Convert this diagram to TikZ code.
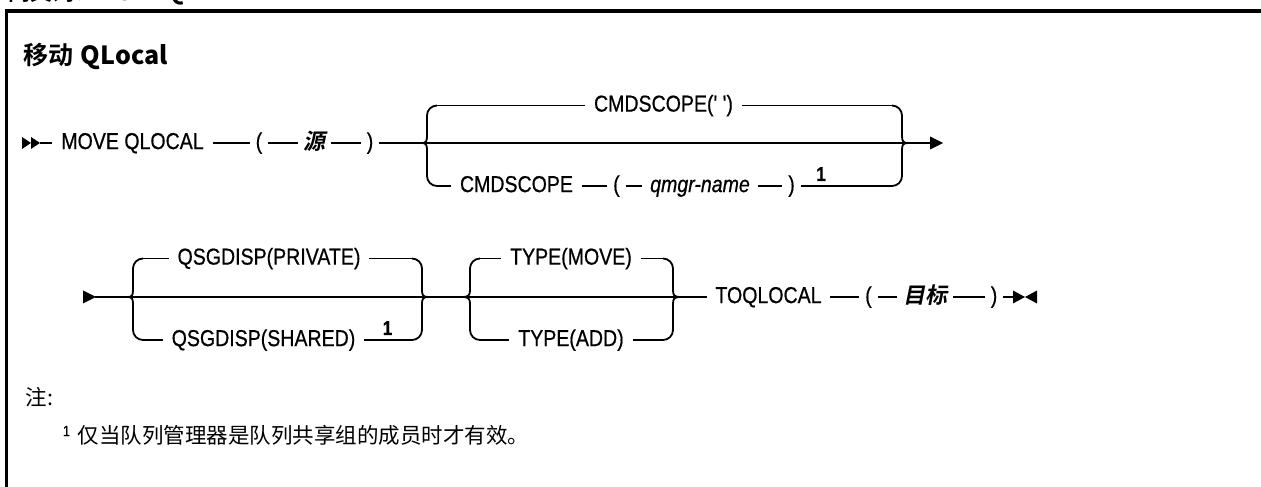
\documentclass[tikz,border=0pt]{standalone}
\usepackage{fontspec}
\setmainfont{Liberation Sans}
\newfontfamily\diag{Liberation Sans}[FakeStretch=0.85,FakeBold=0.6]
\newfontfamily\cjk{Noto Sans CJK SC}
\newfontfamily\cjkbold{Noto Sans CJK SC Bold}
\newfontfamily\cjkbi{Noto Sans CJK SC Bold}[FakeSlant=0.2]
\newcommand{\mylbrace}[5]{%
 \draw (#2+10,#4) arc[start angle=90,end angle=180,radius=10pt] -- (#2,#3+7) .. controls (#2,#3+2) and (#2-1,#3) .. (#1,#3);
 \draw (#2+10,#5) arc[start angle=270,end angle=180,radius=10pt] -- (#2,#3-7) .. controls (#2,#3-2) and (#2-1,#3) .. (#1,#3);}
\newcommand{\myrbrace}[5]{%
 \draw (#2-10,#4) arc[start angle=90,end angle=0,radius=10pt] -- (#2,#3+7) .. controls (#2,#3+2) and (#2+1,#3) .. (#1,#3);
 \draw (#2-10,#5) arc[start angle=270,end angle=360,radius=10pt] -- (#2,#3-7) .. controls (#2,#3-2) and (#2+1,#3) .. (#1,#3);}
\tikzset{
 kw/.style={font=\diag\fontsize{23}{25}\selectfont, inner xsep=8pt, inner ysep=0pt, anchor=mid},
 tk/.style={font=\diag\fontsize{23}{25}\selectfont, inner xsep=5pt, inner ysep=0pt, anchor=mid},
 vartxt/.style={font=\diag\itshape\fontsize{23}{25}\selectfont, inner xsep=7pt, inner ysep=0pt, anchor=mid},
 cjkvar/.style={font=\cjkbi\fontsize{22}{24}\selectfont, inner xsep=5pt, inner ysep=0pt, anchor=mid},
 supn/.style={font=\diag\bfseries\fontsize{20}{22}\selectfont, inner sep=0pt, anchor=base},
}
\begin{document}
\diag\fontsize{23}{25}\selectfont
\begin{tikzpicture}[x=1pt,y=1pt,line width=1.8pt]
\useasboundingbox (0,0) rectangle (1261,487);
\clip (0,0) rectangle (1261,487);
% cut heading and frame
\node[anchor=base west, inner sep=0pt, font=\fontsize{22}{24}\selectfont] (syn) at (8,486) {\cjkbold 同义词：\textbf{MOVE QL}};
\draw[line width=3.2pt] (6.5,476) -- (1265,476);
\draw[line width=2.5pt] (6.5,-2) -- (6.5,477.6);
% title
\node[anchor=base west, inner sep=0pt, font=\fontsize{25}{27}\selectfont] (title) at (23,422) {\cjkbold 移动\hspace{7pt}\textbf{QLocal}};
% ---------- row 1 ----------
\fill (22,350) -- (31,344) -- (22,338) -- cycle;
\fill (31,350) -- (40,344) -- (31,338) -- cycle;
\coordinate (r1s) at (40,344);
\node[kw] (mq) at (132.5,344) {MOVE QLOCAL};
\node[tk] (lp1) at (259,344) {(};
\node[cjkvar] (src) at (314.5,344) {源};
\node[tk] (rp1) at (370,344) {)};
\coordinate (g1l) at (422,344);
\coordinate (g1r) at (908,344);
\draw (r1s) -- (mq.mid west);
\draw (mq.mid east) -- (lp1.mid west);
\draw (lp1.mid east) -- (src.mid west);
\draw (src.mid east) -- (rp1.mid west);
\draw (rp1.mid east) -- (g1l);
\mylbrace{422}{427}{344}{381.5}{301}
\myrbrace{908}{902}{344}{381.5}{301}
\draw (g1l) -- (g1r);
\coordinate (g1tl) at (437,381.5);
\coordinate (g1tr) at (892,381.5);
\node[kw] (cs1) at (663.5,381.5) {CMDSCOPE(' ')};
\draw (g1tl) -- (cs1.mid west);
\draw (cs1.mid east) -- (g1tr);
\coordinate (g1bl) at (437,301);
\coordinate (g1br) at (892,301);
\node[kw] (cmd) at (516.5,301) {CMDSCOPE};
\node[tk] (lp2) at (616.5,301) {(};
\node[vartxt] (qm) at (700,301) {qmgr-name};
\node[tk] (rp2) at (791.5,301) {)};
\node[supn] (n1a) at (821,306) {1};
\draw (g1bl) -- (cmd.mid west);
\draw (cmd.mid east) -- (lp2.mid west);
\draw (lp2.mid east) -- (qm.mid west);
\draw (qm.mid east) -- (rp2.mid west);
\draw (rp2.mid east) -- (g1br);
\coordinate (a1) at (930,344);
\draw (g1r) -- (a1);
\fill (930,350.5) -- (943,344) -- (930,337.5) -- cycle;
% ---------- row 2 ----------
\fill (83,196.5) -- (96,190) -- (83,183.5) -- cycle;
\coordinate (r2s) at (95,190);
\coordinate (g2l) at (128,190);
\coordinate (g2r) at (428,190);
\draw (r2s) -- (g2l);
\mylbrace{128}{133}{190}{228.5}{147}
\myrbrace{428}{422}{190}{228.5}{147}
\draw (g2l) -- (g2r);
\coordinate (g2tl) at (143,228.5);
\coordinate (g2tr) at (412,228.5);
\node[kw] (qp) at (269,228.5) {QSGDISP(PRIVATE)};
\draw (g2tl) -- (qp.mid west);
\draw (qp.mid east) -- (g2tr);
\coordinate (g2bl) at (143,147);
\coordinate (g2br) at (412,147);
\node[kw] (qs) at (263.5,147) {QSGDISP(SHARED)};
\node[supn] (n1b) at (387.5,152) {1};
\draw (g2bl) -- (qs.mid west);
\draw (qs.mid east) -- (g2br);
% type group
\coordinate (g3l) at (462,190);
\coordinate (g3r) at (680,190);
\draw (g2r) -- (g3l);
\mylbrace{462}{470}{190}{228.5}{147}
\myrbrace{680}{673}{190}{228.5}{147}
\draw (g3l) -- (g3r);
\coordinate (g3tl) at (480,228.5);
\coordinate (g3tr) at (663,228.5);
\node[kw] (tm) at (571,228.5) {TYPE(MOVE)};
\draw (g3tl) -- (tm.mid west);
\draw (tm.mid east) -- (g3tr);
\coordinate (g3bl) at (480,147);
\coordinate (g3br) at (663,147);
\node[kw] (ta) at (571,147) {TYPE(ADD)};
\draw (g3bl) -- (ta.mid west);
\draw (ta.mid east) -- (g3br);
% toqlocal
\node[kw] (toq) at (768.5,190) {TOQLOCAL};
\node[tk] (lp3) at (868.5,190) {(};
\node[cjkvar] (tgt) at (925,190) {目标};
\node[tk] (rp3) at (994,190) {)};
\coordinate (e2) at (1013,190);
\draw (g3r) -- (toq.mid west);
\draw (toq.mid east) -- (lp3.mid west);
\draw (lp3.mid east) -- (tgt.mid west);
\draw (tgt.mid east) -- (rp3.mid west);
\draw (rp3.mid east) -- (e2);
\fill (1013,196.5) -- (1025,190) -- (1013,183.5) -- cycle;
\fill (1037,196.5) -- (1025,190) -- (1037,183.5) -- cycle;
% notes
\node[anchor=west, inner sep=0pt, font=\cjk\fontsize{21.5}{24}\selectfont] (note) at (25,90) {注:};
\node[anchor=west, inner sep=0pt, font=\cjk\fontsize{21.5}{24}\selectfont] (fn) at (62,52) {\raisebox{7pt}{\diag\fontsize{15}{17}\selectfont 1}\hspace{8pt}仅当队列管理器是队列共享组的成员时才有效。};
\end{tikzpicture}
\end{document}
